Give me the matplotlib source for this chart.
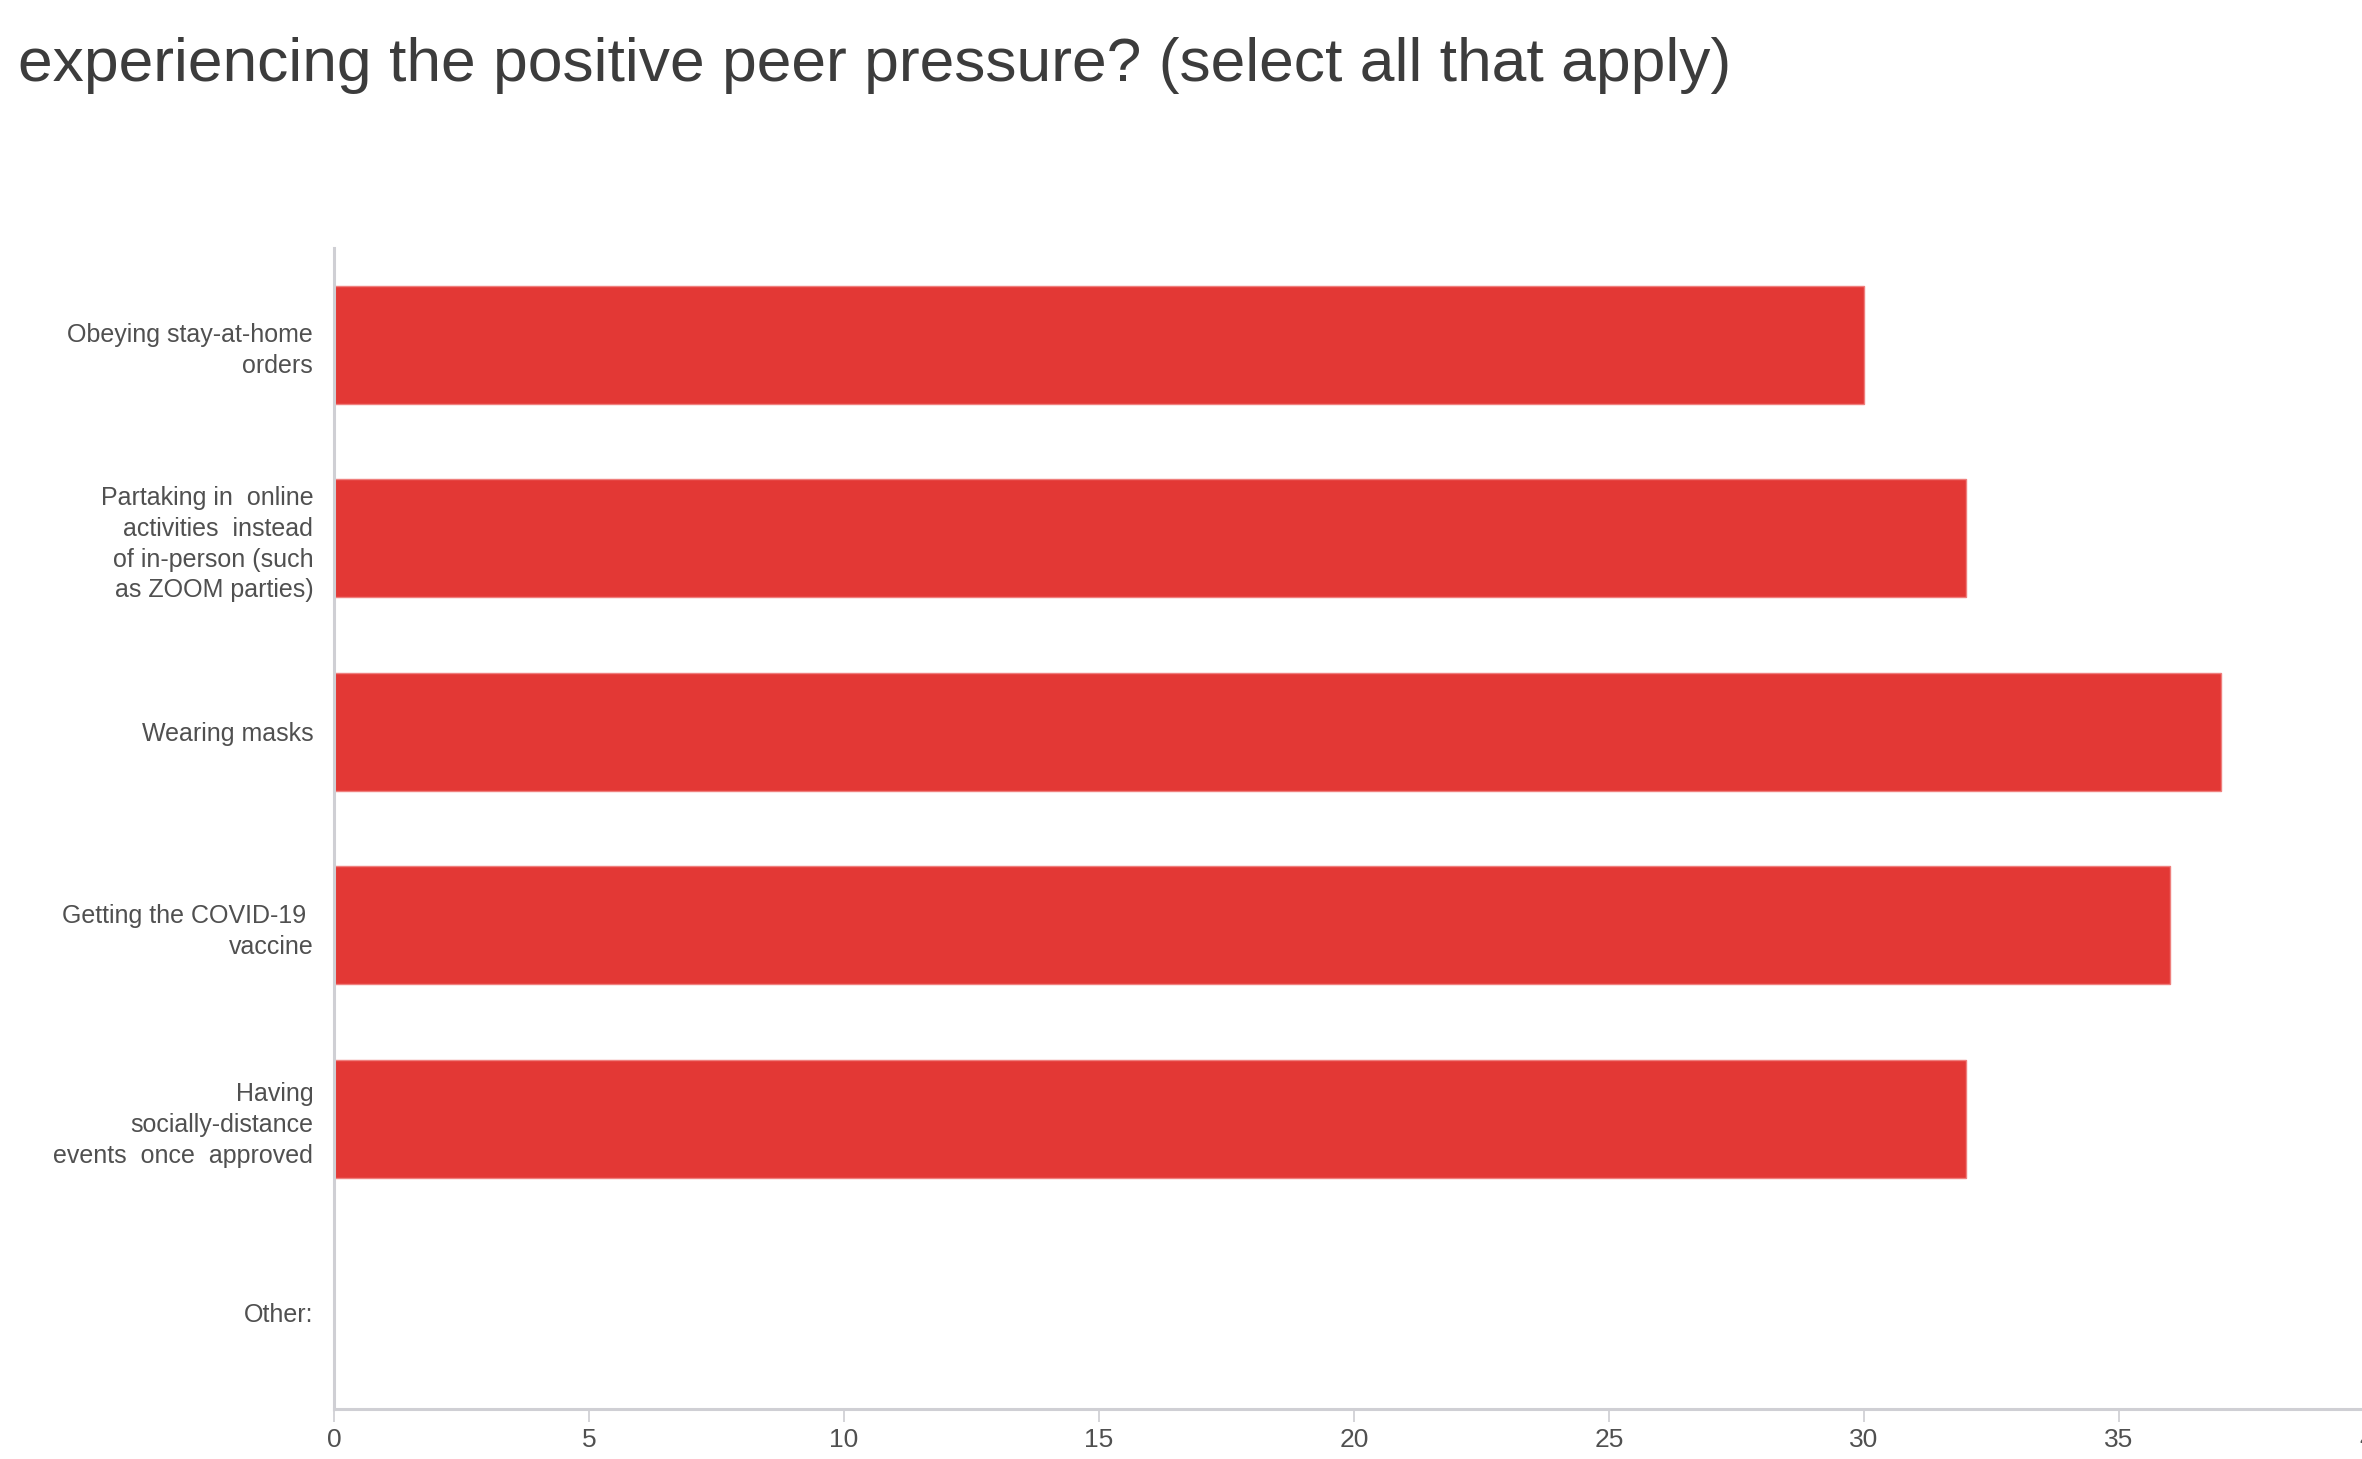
import matplotlib
matplotlib.use("Agg")
import matplotlib.pyplot as plt
from matplotlib import font_manager

# Survey responses
categories = [
    "Obeying stay-at-home\norders",
    "Partaking in  online\nactivities  instead\nof in-person (such\nas ZOOM parties)",
    "Wearing masks",
    "Getting the COVID-19 \nvaccine",
    "Having\nsocially-distance\nevents  once  approved",
    "Other:",
]
counts = [30, 32, 37, 36, 32, 0]
x_ticks = [0, 5, 10, 15, 20, 25, 30, 35, 40]
title = "experiencing the positive peer pressure? (select all that apply)"

names = {f.name for f in font_manager.fontManager.ttflist}
narrow = "Liberation Sans Narrow" if "Liberation Sans Narrow" in names else "Liberation Sans"

W, H, DPI = 2362, 1459, 100
fig = plt.figure(figsize=(W / DPI, H / DPI), dpi=DPI)
fig.patch.set_facecolor("white")

ax_left, ax_right = 334, 2374
ax_top, ax_bottom = 248, 1409
ax = fig.add_axes([ax_left / W, 1 - ax_bottom / H,
                   (ax_right - ax_left) / W, (ax_bottom - ax_top) / H])

bar_color = "#e33835"
ypos = list(range(len(categories)))
ax.barh(ypos, counts, height=0.61, color=bar_color,
        edgecolor="#ef7f7d", linewidth=1.0)

ax.set_xlim(0, 40)
ax.set_ylim(len(categories) - 0.5, -0.5)
ax.set_xticks(x_ticks)
ax.set_xticklabels([str(t) for t in x_ticks])
ax.set_yticks(ypos)
ax.set_yticklabels(categories, ha="right", multialignment="right")

axis_gray = "#cfcfd4"
for side in ("top", "right"):
    ax.spines[side].set_visible(False)
for side in ("left", "bottom"):
    ax.spines[side].set_color(axis_gray)
    ax.spines[side].set_linewidth(2.2)

text_gray = "#505050"
ax.tick_params(axis="x", length=9.5, width=1.4, color="#d4d4d8",
               pad=4, labelsize=19, labelcolor=text_gray)
ax.tick_params(axis="y", length=0, pad=15, labelsize=18, labelcolor=text_gray)
for lab in ax.get_xticklabels() + ax.get_yticklabels():
    lab.set_fontfamily(narrow)
for lab in ax.get_yticklabels():
    lab.set_linespacing(1.36)

t = fig.text(18 / W, 1 - 66 / H, title, ha="left", va="center",
             fontsize=40, color="#3c3c3c", family="Liberation Sans")
# fit the heading to its intended span
fig.canvas.draw()
bb = t.get_window_extent()
t.set_fontsize(40 * 1711 / bb.width)

fig.savefig("out.png", dpi=DPI, facecolor="white")
